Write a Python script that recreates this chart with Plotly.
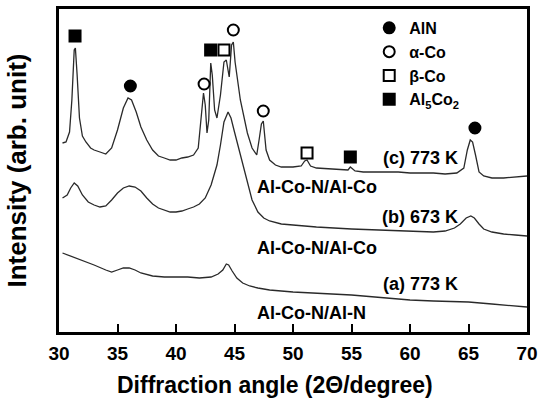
import plotly.graph_objects as go

# ---- data (two-theta in degrees, intensity in arbitrary units) ----
c_2theta = [30.3, 30.6, 30.9, 31.1, 31.3, 31.4, 31.55, 31.75, 32.0, 32.3, 32.7, 33.0, 33.5, 34.0, 34.5,
            35.0, 35.5, 35.9, 36.2, 36.6, 37.0, 37.5, 38.0, 38.5, 39.0, 39.5, 40.0, 40.5, 41.0, 41.5,
            41.9, 42.1, 42.35, 42.5, 42.65, 42.8, 42.97, 43.1, 43.3, 43.5, 43.8, 44.1, 44.3, 44.55,
            44.75, 44.9, 45.05, 45.5, 46.1, 46.5, 46.9, 47.1, 47.3, 47.46, 47.7, 48.0, 48.5, 49.0,
            50.0, 50.7, 51.0, 51.2, 51.5, 52.0, 53.0, 54.0, 54.7, 54.9, 55.3, 56.0, 57.0, 58.0, 59.0,
            60.0, 61.0, 62.0, 63.0, 64.0, 64.6, 64.9, 65.15, 65.35, 65.6, 65.9, 66.3, 67.0, 68.0,
            69.0, 70.0]
c_int = [189, 190, 200, 232, 282, 284, 257, 214, 196, 190, 184, 182, 180, 178, 184,
         202, 224, 234, 232, 220, 205, 192, 182, 176, 174, 172, 172, 174, 175, 177,
         184, 207, 239, 227, 199, 212, 269, 257, 222, 214, 237, 270, 272, 255,
         287, 290, 270, 232, 199, 184, 177, 192, 208, 211, 182, 172, 167, 165,
         165, 166, 171, 172, 166, 164, 163, 162, 162, 165, 161, 160, 160, 160, 160,
         159, 159, 159, 158, 159, 164, 182, 192, 190, 177, 160, 156, 154, 154,
         155, 156]

b_2theta = [30.3, 30.7, 31.0, 31.3, 31.6, 32.0, 32.5, 33.0, 33.5, 34.0, 34.5, 35.0, 35.5, 36.0,
            36.5, 37.0, 37.5, 38.0, 38.5, 39.0, 39.5, 40.0, 40.5, 41.0, 41.5, 42.0, 42.5, 43.0,
            43.5, 43.8, 44.1, 44.45, 44.7, 45.0, 45.5, 46.0, 46.5, 47.0, 47.5, 48.0, 49.0, 50.0,
            52.0, 55.0, 57.0, 60.0, 62.0, 63.0, 63.8, 64.3, 64.8, 65.2, 65.5, 65.9, 66.3, 67.0,
            68.0, 69.0, 70.0]
b_int = [134, 137, 144, 149, 146, 137, 130, 127, 125, 126, 132, 139, 144, 146,
         145, 141, 134, 128, 124, 122, 120, 120, 121, 123, 125, 128, 134, 147,
         167, 187, 210, 220, 214, 200, 177, 152, 132, 120, 114, 111, 108, 107,
         105, 103, 102, 101, 100, 101, 104, 108, 114, 116, 114, 108, 103, 100,
         98, 97, 96]

a_2theta = [30.3, 31.0, 32.0, 33.0, 34.0, 34.5, 35.0, 35.5, 36.0, 36.5, 37.0, 38.0, 39.0, 40.0,
            41.0, 42.0, 43.0, 43.6, 44.0, 44.3, 44.5, 44.8, 45.2, 45.7, 46.3, 47.0, 48.0, 50.0,
            52.0, 55.0, 58.0, 60.0, 62.0, 65.0, 67.0, 69.0, 70.0]
a_int = [79, 76, 72, 67, 62, 60, 62, 64, 64, 62, 59, 56, 55, 55,
         55, 54, 55, 58, 62, 68, 67, 61, 54, 49, 46, 44, 42, 40,
         39, 37, 34, 32, 31, 30, 28, 26, 25]

# peak markers for each phase (two-theta, marker height)
phase_names = ["AlN", "α-Co", "β-Co", "Al<sub>5</sub>Co<sub>2</sub>"]
phase_2theta = [[36.1, 65.55], [42.4, 44.9, 47.46], [44.1, 51.2], [31.37, 42.96, 54.9]]
phase_height = [[246, 204], [248, 302, 221], [282, 179], [296, 282, 175]]
phase_symbols = ["circle", "circle-open", "square-open", "square"]

# curve labels
label_text = ["(c) 773 K", "Al-Co-N/Al-Co", "(b) 673 K", "Al-Co-N/Al-Co", "(a) 773 K", "Al-Co-N/Al-N"]
label_x = [64.3, 46.75, 64.3, 46.75, 64.3, 46.75]
label_y = [174, 145, 115, 84, 48, 19]
label_anchor = ["right", "left", "right", "left", "right", "left"]

x_ticks = [30, 35, 40, 45, 50, 55, 60, 65, 70]

FONT = "Liberation Sans, Arial, sans-serif"
LINE = "#2a2a2a"

fig = go.Figure()
for xs, ys, nm in [(c_2theta, c_int, "(c) 773 K"), (b_2theta, b_int, "(b) 673 K"), (a_2theta, a_int, "(a) 773 K")]:
    fig.add_trace(go.Scatter(x=xs, y=ys, mode="lines", name=nm, showlegend=False,
                             line=dict(color=LINE, width=1.3)))

for nm, xs, ys, sym in zip(phase_names, phase_2theta, phase_height, phase_symbols):
    fig.add_trace(go.Scatter(x=xs, y=ys, mode="markers", name=nm,
                             marker=dict(symbol=sym, size=11, color="black",
                                         line=dict(color="black", width=2))))

for t, x, y, anc in zip(label_text, label_x, label_y, label_anchor):
    fig.add_annotation(x=x, y=y, xref="x", yref="y", text=t, showarrow=False,
                       xanchor=anc, yanchor="middle",
                       font=dict(family=FONT, size=18, color="black", weight="bold"))

fig.add_annotation(x=(275 - 59) / 468, y=-(385 - 332) / 323, xref="paper", yref="paper",
                   text="Diffraction angle (2Θ/degree)", showarrow=False,
                   xanchor="center", yanchor="middle",
                   font=dict(family=FONT, size=23, color="black", weight="bold"))

fig.update_layout(
    width=539, height=405,
    margin=dict(l=59, r=12, t=9, b=73, autoexpand=False),
    paper_bgcolor="white", plot_bgcolor="white",
    font=dict(family=FONT, color="black"),
    legend=dict(xref="container", yref="container", x=0.685, y=0.973,
                xanchor="left", yanchor="top",
                bgcolor="rgba(0,0,0,0)", borderwidth=0,
                font=dict(family=FONT, size=16, color="black", weight="bold"),
                tracegroupgap=0),
)
fig.update_xaxes(range=[30, 70], tickvals=x_ticks, ticks="inside", ticklen=8, tickwidth=2,
                 tickcolor="black", showline=True, linewidth=3, linecolor="black", mirror=True,
                 showgrid=False, zeroline=False, ticklabelstandoff=2,
                 tickfont=dict(family=FONT, size=19, color="black", weight="bold"))
fig.update_yaxes(range=[0, 323], showticklabels=False, ticks="", showline=True, linewidth=3,
                 linecolor="black", mirror=True, showgrid=False, zeroline=False,
                 title=dict(text="Intensity (arb. unit)", standoff=22,
                            font=dict(family=FONT, size=26, color="black", weight="bold")))

fig.write_html("out.html")
